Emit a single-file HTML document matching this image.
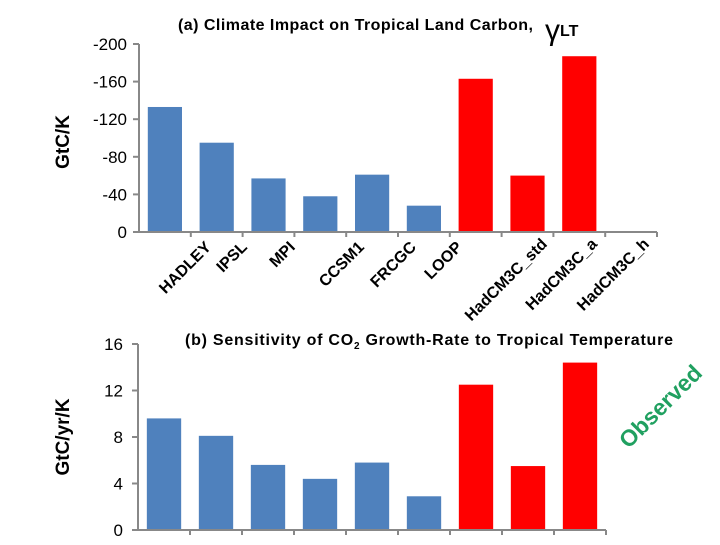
<!DOCTYPE html>
<html><head><meta charset="utf-8"><style>
body{margin:0;background:#fff;}
svg text{font-family:"Liberation Sans",sans-serif;}
</style></head><body>
<svg width="720" height="540" viewBox="0 0 720 540">
<g id="top"></g>
<g id="bot"></g>
<text x="178" y="30" font-size="16" font-weight="bold" textLength="355">(a) Climate Impact on Tropical Land Carbon,</text>
<text x="545" y="40" font-size="30" font-family="Liberation Serif,serif">γ<tspan font-size="16" font-weight="bold" font-family="Liberation Sans,sans-serif" dy="-4">LT</tspan></text>
<text transform="translate(69,142) rotate(-90)" text-anchor="middle" font-size="19" font-weight="bold">GtC/K</text>
<text x="185" y="345" font-size="16" font-weight="bold" textLength="488">(b) Sensitivity of CO<tspan font-size="10" dy="4">2</tspan><tspan dy="-4"> Growth-Rate to Tropical Temperature</tspan></text>
<text transform="translate(69,437) rotate(-90)" text-anchor="middle" font-size="19" font-weight="bold">GtC/yr/K</text>
<text transform="translate(666,412) rotate(-45)" text-anchor="middle" font-size="23" font-weight="bold" fill="#20a060">Observed</text>
</svg>
<script>
const topCats=["HADLEY","IPSL","MPI","CCSM1","FRCGC","LOOP","HadCM3C_std","HadCM3C_a","HadCM3C_h",""];
const topVals=[-133,-95,-57,-38,-61,-28,-163,-60,-187,null];
const topColors=["b","b","b","b","b","b","r","r","r","b"];
const topTicks=[0,-40,-80,-120,-160,-200];
const botVals=[9.6,8.1,5.6,4.4,5.8,2.9,12.5,5.5,14.4];
const botColors=["b","b","b","b","b","b","r","r","r"];
const botTicks=[0,4,8,12,16];
const NS="http://www.w3.org/2000/svg";
function mk(p,t,a){const e=document.createElementNS(NS,t);for(const k in a)e.setAttribute(k,a[k]);p.appendChild(e);return e;}
const col={b:"#4f81bd",r:"#ff0000"};
// top
(function(){
const g=document.getElementById("top");
const x0=139,x1=657,y0=232,yT=44,n=topVals.length,w=(x1-x0)/n;
const Y=v=>y0-(Math.abs(v)/200)*(y0-yT);
topVals.forEach((v,i)=>{if(v===null)return;
const r=mk(g,"rect",{x:x0+i*w+w*0.17,y:Y(v),width:w*0.66,height:y0-Y(v),fill:col[topColors[i]]});

});
mk(g,"line",{x1:x0,y1:yT,x2:x0,y2:y0,stroke:"#888","stroke-width":2});
mk(g,"line",{x1:x0-6,y1:y0,x2:x1,y2:y0,stroke:"#888","stroke-width":2});
for(let i=1;i<=n;i++)mk(g,"line",{x1:x0+i*w,y1:y0,x2:x0+i*w,y2:y0+5,stroke:"#888","stroke-width":2});
topTicks.forEach(t=>{mk(g,"line",{x1:x0-6,y1:Y(t),x2:x0,y2:Y(t),stroke:"#888","stroke-width":2});
const tx=mk(g,"text",{x:x0-12,y:Y(t)+6,"text-anchor":"end","font-size":17});tx.textContent=t;

});
const lx=[212,248,296,365,417,463,548,598,650];
const ly=[248,248,248,248,248,248,245,245,245];
topCats.forEach((c,i)=>{if(!c)return;
const t=mk(g,"text",{transform:`translate(${lx[i]},${ly[i]}) rotate(-45)`,"text-anchor":"end","font-size":16,"font-weight":"bold"});t.textContent=c;

});
})();
// bottom
(function(){
const g=document.getElementById("bot");
const x0=138,n=9,w=52,x1=x0+n*w,y0=530,yT=344;
const Y=v=>y0-(v/16)*(y0-yT);
botVals.forEach((v,i)=>{
const r=mk(g,"rect",{x:x0+i*w+w*0.17,y:Y(v),width:w*0.66,height:y0-Y(v),fill:col[botColors[i]]});

});
mk(g,"line",{x1:x0,y1:yT,x2:x0,y2:y0,stroke:"#888","stroke-width":2});
mk(g,"line",{x1:x0-6,y1:y0,x2:x1,y2:y0,stroke:"#888","stroke-width":2});
for(let i=1;i<=n;i++)mk(g,"line",{x1:x0+i*w,y1:y0,x2:x0+i*w,y2:y0+5,stroke:"#888","stroke-width":2});
botTicks.forEach(t=>{mk(g,"line",{x1:x0-6,y1:Y(t),x2:x0,y2:Y(t),stroke:"#888","stroke-width":2});
const tx=mk(g,"text",{x:x0-15,y:Y(t)+6,"text-anchor":"end","font-size":17});tx.textContent=t;

});
})();
</script>
</body></html>
